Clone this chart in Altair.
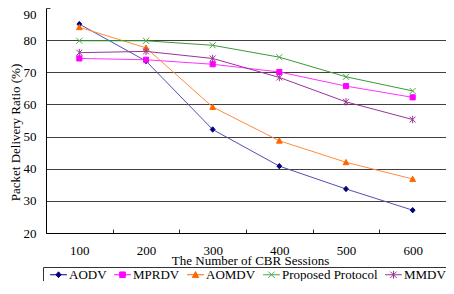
import altair as alt
import pandas as pd

# ---- data ----
sessions = [100, 200, 300, 400, 500, 600]
series = ["AODV", "MPRDV", "AOMDV", "Proposed Protocol", "MMDV"]
aodv = [85.0, 73.5, 52.2, 40.8, 33.7, 27.1]
mprdv = [74.3, 73.9, 72.5, 70.1, 65.7, 62.2]
aomdv = [84.0, 77.6, 59.2, 48.7, 42.0, 36.8]
proposed = [79.8, 79.8, 78.4, 74.7, 68.6, 64.2]
mmdv = [76.1, 76.5, 74.3, 68.4, 60.8, 55.3]
y_ticks = [20, 30, 40, 50, 60, 70, 80, 90]

values = [aodv, mprdv, aomdv, proposed, mmdv]
rows = []
for name, vals in zip(series, values):
    for s, v in zip(sessions, vals):
        rows.append({"sessions": s, "series": name, "pdr": v})
df = pd.DataFrame(rows)

# ---- styles ----
FONT = "Liberation Serif"
W, H = 400, 225
line_colors = ["#5050B0", "#FF33FF", "#FF8C3A", "#3A9A3A", "#993399"]
marker_colors = ["#000080", "#FF00FF", "#FF6600", "#4CA64C", "#993399"]
marker_paths = [
    "M0,-0.9L0.8,0L0,0.9L-0.8,0Z",
    "M-0.85,-0.85H0.85V0.85H-0.85Z",
    "M0,-0.95L0.95,0.8H-0.95Z",
    "M-1,-1L1,1M-1,1L1,-1",
    "M-1,-1L1,1M-1,1L1,-1M0,-1.25V1.25",
]
legend_paths = [
    "M-1.2,0H1.2M0,-0.42L0.37,0L0,0.42L-0.37,0Z",
    "M-1.2,0H1.2M-0.4,-0.4H0.4V0.4H-0.4Z",
    "M-1.2,0H1.2M0,-0.45L0.45,0.38H-0.45Z",
    "M-1.2,0H1.2M-0.45,-0.45L0.45,0.45M-0.45,0.45L0.45,-0.45",
    "M-1.2,0H1.2M-0.45,-0.45L0.45,0.45M-0.45,0.45L0.45,-0.45M0,-0.55V0.55",
]

x_enc = alt.X(
    "sessions:O",
    scale=alt.Scale(type="band", paddingInner=0, paddingOuter=0),
    axis=alt.Axis(
        title="The Number of CBR Sessions",
        titleFont=FONT, titleFontSize=13, titleFontWeight="normal", titleColor="#000",
        titleBaseline="middle", titleY=27, titleX=W / 2 + 4,
        labelFont=FONT, labelFontSize=13, labelColor="#000", labelAngle=0,
        labelBaseline="middle", labelPadding=17,
        ticks=False, tickBand="extent",
        grid=True, gridColor="#333", gridDash=[4, H - 4], gridDashOffset=4, gridWidth=1,
        domainColor="#000", domainWidth=1,
    ),
)
y_enc = alt.Y(
    "pdr:Q",
    scale=alt.Scale(domain=[20, 90], nice=False, zero=False),
    axis=alt.Axis(
        values=y_ticks,
        title="Packet Delivery Ratio (%)",
        titleFont=FONT, titleFontSize=13, titleFontWeight="normal", titleColor="#000",
        titleX=-27, titleY=124, titleBaseline="alphabetic",
        labelFont=FONT, labelFontSize=13, labelColor="#000",
        labelPadding=10, ticks=False,
        labelOffset={"condition": {"test": "datum.value === 90", "value": 6}, "value": 0},
        grid=True, gridColor="#404040", gridWidth=1,
        gridDash={"condition": {"test": "datum.value === 90", "value": [4, 1000]}, "value": []},
        domainColor="#000", domainWidth=1,
    ),
)

layers = []
for name, lc in zip(series, line_colors):
    layers.append(
        alt.Chart(df).transform_filter(alt.datum.series == name)
        .mark_line(strokeWidth=1, color=lc)
        .encode(x=x_enc, y=y_enc, order="sessions:O")
    )
for name, path, mc in zip(series, marker_paths, marker_colors):
    layers.append(
        alt.Chart(df).transform_filter(alt.datum.series == name)
        .mark_point(shape=path, filled=True, fill=mc, stroke=mc, size=36, strokeWidth=1, opacity=1)
        .encode(x=x_enc, y=y_enc)
    )

fill_scale = alt.Scale(domain=series, range=marker_colors)
leg = alt.Legend(
    title=None, orient="none", legendX=-3, legendY=259, direction="horizontal",
    labelFont=FONT, labelFontSize=13, labelColor="#000", labelOffset=3,
    symbolSize=196, symbolStrokeWidth=1, symbolOffset=8, columnPadding=-2,
    padding=0, strokeColor="#333", symbolOpacity=1,
)
legend_layer = alt.Chart(df).mark_point(filled=True, opacity=0, strokeWidth=1).encode(
    x=x_enc, y=y_enc,
    fill=alt.Fill("series:N", scale=fill_scale, legend=leg),
    stroke=alt.Stroke("series:N", scale=fill_scale, legend=leg),
    shape=alt.Shape("series:N", scale=alt.Scale(domain=series, range=legend_paths), legend=leg),
)
layers.append(legend_layer)

chart = alt.layer(*layers).properties(
    width=W, height=H,
    autosize=alt.AutoSizeParams(type="none"),
    padding={"left": 38, "top": 0, "right": 0, "bottom": 48},
    background="white",
).configure_view(stroke=None)

chart.save("out.html", embed_options={"renderer": "svg", "actions": False})
